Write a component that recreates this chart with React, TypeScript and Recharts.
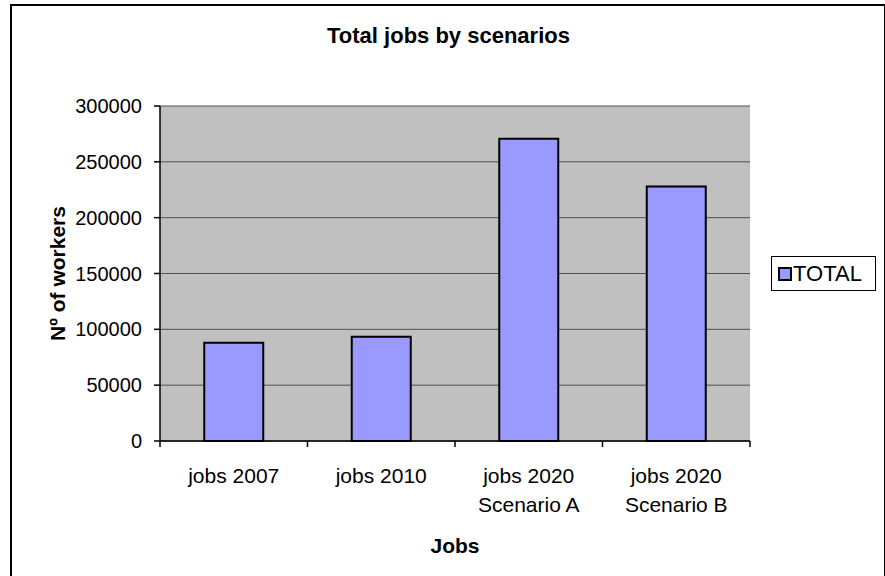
import React from 'react';
import { BarChart, Bar, XAxis, YAxis, CartesianGrid, Legend } from 'recharts';

const categories = ['jobs 2007', 'jobs 2010', 'jobs 2020\nScenario A', 'jobs 2020\nScenario B'];
const totals = [88000, 93300, 270700, 227800];
const yTicks = [0, 50000, 100000, 150000, 200000, 250000, 300000];
const seriesName = 'TOTAL';
const chartTitle = 'Total jobs by scenarios';
const xTitle = 'Jobs';
const yTitle = 'Nº of workers';

const data = categories.map((c, i) => ({ category: c, TOTAL: totals[i] }));

const FONT = '"Liberation Sans", Arial, Helvetica, sans-serif';

function XTick(props: any) {
  const { x, y, payload, index, visibleTicksCount } = props;
  const half = payload && typeof payload.offset === 'number' ? payload.offset : 0;
  const lines = String(payload.value).split('\n');
  const count = visibleTicksCount ?? categories.length;
  const last = index === count - 1;
  return (
    <g>
      <line x1={x - half} x2={x - half} y1={y} y2={y + 6} stroke="#000" strokeWidth={1.5} />
      {last && <line x1={x + half} x2={x + half} y1={y} y2={y + 6} stroke="#000" strokeWidth={1.5} />}
      <text textAnchor="middle" fontSize={21} fontFamily={FONT} fill="#000">
        {lines.map((l, i) => (
          <tspan key={i} x={x} y={y + 42 + i * 28.5}>
            {l}
          </tspan>
        ))}
      </text>
    </g>
  );
}

function YTitle(props: any) {
  const vb = props.viewBox || { x: 10, y: 106, width: 150, height: 335 };
  const cx = vb.x + 55;
  const cy = vb.y + vb.height / 2;
  return (
    <text
      x={cx}
      y={cy}
      textAnchor="middle"
      transform={`rotate(-90, ${cx}, ${cy})`}
      fontSize={21}
      fontWeight="bold"
      fontFamily={FONT}
      fill="#000"
    >
      {yTitle}
    </text>
  );
}

function XTitle(props: any) {
  const vb = props.viewBox || { x: 160, y: 441, width: 590, height: 115 };
  return (
    <text
      x={vb.x + vb.width / 2}
      y={vb.y + 112}
      textAnchor="middle"
      fontSize={21}
      fontWeight="bold"
      fontFamily={FONT}
      fill="#000"
    >
      {xTitle}
    </text>
  );
}

function LegendBox(props: any) {
  const item = (props.payload && props.payload[0]) || { value: seriesName };
  return (
    <div
      style={{
        width: 105,
        height: 35,
        border: '1px solid #000',
        boxSizing: 'border-box',
        display: 'flex',
        alignItems: 'center',
        paddingLeft: 6,
        fontFamily: FONT,
        fontSize: 22,
        color: '#000',
        background: '#fff',
      }}
    >
      <span
        style={{
          display: 'inline-block',
          width: 14,
          height: 14,
          boxSizing: 'border-box',
          border: '2px solid #000',
          background: '#9999ff',
          marginRight: 1,
        }}
      />
      <span>{item.value}</span>
    </div>
  );
}

export default function App() {
  return (
    <div
      style={{
        position: 'fixed',
        left: 0,
        top: 0,
        width: 885,
        height: 576,
        overflow: 'hidden',
        background: '#fff',
      }}
    >
      <div
        style={{
          position: 'absolute',
          left: 10,
          top: 4,
          width: 876,
          height: 640,
          border: '2px solid #000',
          boxSizing: 'border-box',
        }}
      />
      <svg
        width={885}
        height={60}
        style={{ position: 'absolute', left: 0, top: 0 }}
      >
        <text
          x={448.5}
          y={43}
          textAnchor="middle"
          fontSize={22}
          fontWeight="bold"
          fontFamily={FONT}
          fill="#000"
        >
          {chartTitle}
        </text>
      </svg>
      <div style={{ position: 'absolute', left: 0, top: 0 }}>
        <BarChart
          width={885}
          height={576}
          data={data}
          margin={{ top: 106, right: 135, bottom: 20, left: 10 }}
          barCategoryGap="30%"
        >
          <CartesianGrid
            vertical={false}
            horizontal={true}
            fill="#c0c0c0"
            fillOpacity={1}
            stroke="#505050"
            strokeWidth={1}
          />
          <XAxis
            dataKey="category"
            height={115}
            interval={0}
            tickSize={0}
            tickMargin={0}
            tickLine={false}
            axisLine={{ stroke: '#000', strokeWidth: 1.5 }}
            tick={<XTick />}
            label={{ content: <XTitle /> } as any}
          />
          <XAxis
            xAxisId="top"
            orientation="top"
            dataKey="category"
            height={0}
            tick={false}
            tickLine={false}
            axisLine={{ stroke: '#808080', strokeWidth: 2 }}
          />
          <YAxis
            width={150}
            domain={[0, 300000]}
            ticks={yTicks}
            interval={0}
            tickSize={6}
            tickMargin={12}
            tickLine={{ stroke: '#000', strokeWidth: 1.5 }}
            axisLine={{ stroke: '#000', strokeWidth: 1.5 }}
            tick={{ fontSize: 20, fill: '#000', fontFamily: FONT }}
            label={{ content: <YTitle /> } as any}
          />
          <YAxis
            yAxisId="right"
            orientation="right"
            width={0}
            domain={[0, 300000]}
            tick={false}
            tickLine={false}
            axisLine={{ stroke: '#808080', strokeWidth: 2 }}
          />
          <Legend
            layout="horizontal"
            align="center"
            verticalAlign="middle"
            wrapperStyle={{ left: 771, top: 256, width: 105, height: 35 }}
            content={<LegendBox />}
          />
          <Bar
            dataKey="TOTAL"
            name={seriesName}
            fill="#9999ff"
            stroke="#000"
            strokeWidth={2}
            isAnimationActive={false}
          />
        </BarChart>
      </div>
    </div>
  );
}
